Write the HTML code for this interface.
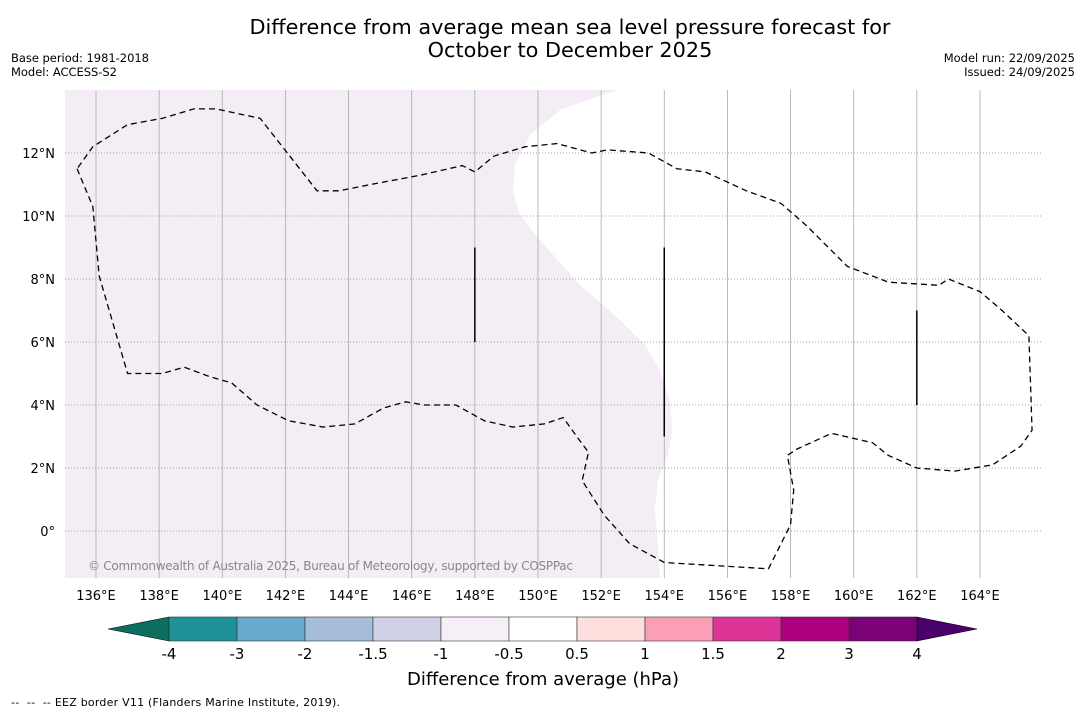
<!DOCTYPE html>
<html><head><meta charset="utf-8"><style>
body{margin:0;background:#fff;font-family:"DejaVu Sans","Liberation Sans",sans-serif;}
svg text{font-family:"DejaVu Sans","Liberation Sans",sans-serif;}
</style></head><body>
<svg id="c" width="1085" height="713" viewBox="0 0 1085 713" xmlns="http://www.w3.org/2000/svg">
<text x="570" y="34" text-anchor="middle" font-size="20.8">Difference from average mean sea level pressure forecast for</text>
<text x="570" y="57" text-anchor="middle" font-size="20.8">October to December 2025</text>
<text x="11" y="62" font-size="11.5" textLength="138">Base period: 1981-2018</text>
<text x="11" y="76" font-size="11.5" textLength="106">Model: ACCESS-S2</text>
<text x="1075" y="62" font-size="11.5" text-anchor="end">Model run: 22/09/2025</text>
<text x="1075" y="76" font-size="11.5" text-anchor="end">Issued: 24/09/2025</text>
<g id="map"></g>
<g id="cb"></g>
<text x="543" y="685" text-anchor="middle" font-size="18">Difference from average (hPa)</text>
<text x="11" y="706" font-size="11" xml:space="preserve" textLength="329">--  --  -- EEZ border V11 (Flanders Marine Institute, 2019).</text>
</svg>
<script>
const lonTicks=[136,138,140,142,144,146,148,150,152,154,156,158,160,162,164];
const latTicks=[0,2,4,6,8,10,12];
const shadeBoundaryLon=[152.5,150.7,149.75,149.27,149.2,149.43,150.06,151.33,152.6,153.4,153.86,154.18,154.25,154.12,153.8,153.7,153.8,153.87];
const shadeBoundaryLat=[14,13.37,12.57,11.62,10.83,10.03,9.24,7.81,6.7,5.9,5.1,4.16,3.2,2.41,1.62,0.67,-0.44,-1.6];
const eezLon=[135.4,135.9,136.1,137.0,138.1,138.8,139.6,140.3,141.1,142.1,143.2,144.2,145.1,145.8,146.4,147.4,148.3,149.2,150.2,150.8,151.3,151.6,151.4,152.1,152.9,154.0,157.3,157.6,158.0,158.1,157.9,158.2,159.3,160.6,161.1,162.0,163.2,164.4,165.3,165.65,165.55,164.7,164.0,163.0,162.7,161.1,159.8,158.5,157.7,156.6,155.3,154.4,153.5,152.2,151.7,150.6,149.6,148.6,148.0,147.6,146.3,144.7,143.7,143.0,141.2,139.8,139.1,138.1,137.0,135.9];
const eezLat=[11.5,10.3,8.1,5.0,5.0,5.2,4.9,4.7,4.0,3.5,3.3,3.4,3.9,4.1,4.0,4.0,3.5,3.3,3.4,3.6,2.9,2.5,1.6,0.5,-0.4,-1.0,-1.2,-0.6,0.2,1.3,2.4,2.6,3.1,2.8,2.4,2.0,1.9,2.1,2.7,3.2,6.2,7.0,7.6,8.0,7.8,7.9,8.4,9.7,10.4,10.8,11.4,11.5,12.0,12.1,12.0,12.3,12.2,11.9,11.4,11.6,11.3,11.0,10.8,10.8,13.1,13.4,13.4,13.1,12.9,12.2];
const lineLon=[148,154,162];
const lineLatTop=[9,9,7];
const lineLatBot=[6,3,4];
const cbBounds=["-4","-3","-2","-1.5","-1","-0.5","0.5","1","1.5","2","3","4"];
const cbColors=["#1f9298","#67a9cf","#a6bddb","#d0d1e6","#f6eff7","#ffffff","#fde0dd","#fa9fb5","#dd3497","#ae017e","#7a0177"];
const NS="http://www.w3.org/2000/svg";
const X0=65,X1=1042,Y0=90,Y1=578;
const px=lon=>96+(lon-136)*31.57;
const py=lat=>531-lat*31.5;
function mk(t,a,p){const e=document.createElementNS(NS,t);for(const k in a)e.setAttribute(k,a[k]);p.appendChild(e);return e;}
const map=document.getElementById('map');
const cp=mk('clipPath',{id:'clip'},map);mk('rect',{x:X0,y:Y0,width:X1-X0,height:Y1-Y0},cp);
const g=mk('g',{'clip-path':'url(#clip)'},map);
let bg=mk('rect',{x:X0,y:Y0,width:X1-X0,height:Y1-Y0,fill:'#fff'},g);


let d='M'+X0+','+(Y0-20)+' ';
shadeBoundaryLon.forEach((l,i)=>{d+='L'+px(l)+','+py(shadeBoundaryLat[i])+' ';});
d+='L'+X0+','+(Y1+20)+'Z';
let sh=mk('path',{d:d,fill:'#f4edf6','stroke-linejoin':'round'},g);


lonTicks.forEach(l=>{
 let ln=mk('line',{x1:px(l),x2:px(l),y1:Y0,y2:Y1,stroke:'#aaa','stroke-width':0.8},g);
 
 
 let t=mk('text',{x:px(l),y:600,'text-anchor':'middle','font-size':13},map);t.textContent=l+'°E';
 
 
});
latTicks.forEach(l=>{
 let ln=mk('line',{x1:X0,x2:X1,y1:py(l),y2:py(l),stroke:'#888','stroke-width':0.8,'stroke-dasharray':'1,2'},g);
 
 
 let t=mk('text',{x:55,y:py(l)+5,'text-anchor':'end','font-size':13},map);t.textContent=l===0?'0°':l+'°N';
 
 
});
let pts=eezLon.map((l,i)=>px(l)+','+py(eezLat[i])).join(' ');
let ez=mk('polygon',{points:pts,fill:'none',stroke:'#000','stroke-width':1.3,'stroke-dasharray':'6,4'},g);


lineLon.forEach((l,i)=>{
 let ln=mk('line',{x1:px(l),x2:px(l),y1:py(lineLatTop[i]),y2:py(lineLatBot[i]),stroke:'#000','stroke-width':1.5},g);
 
 
});
let cr=mk('text',{x:88,y:570,'font-size':12,fill:'#888',textLength:485},g);cr.textContent='© Commonwealth of Australia 2025, Bureau of Meteorology, supported by COSPPac';


const cb=document.getElementById('cb');
const C0=169,CW=68,CY=617,CH=24;
let el=mk('polygon',{points:`${C0},${CY} 108,${CY+CH/2} ${C0},${CY+CH}`,fill:'#0b6e5e',stroke:'#000','stroke-width':0.5},cb);


cbColors.forEach((c,i)=>{
 let r=mk('rect',{x:C0+i*CW,y:CY,width:CW,height:CH,fill:c,stroke:'#333','stroke-width':0.6},cb);
 
 
});
const CE=C0+cbColors.length*CW;
let eh=mk('polygon',{points:`${CE},${CY} 977,${CY+CH/2} ${CE},${CY+CH}`,fill:'#49006a',stroke:'#000','stroke-width':0.5},cb);


cbBounds.forEach((b,i)=>{
 let t=mk('text',{x:C0+i*CW,y:659,'text-anchor':'middle','font-size':15},cb);t.textContent=b;
 
 
});
</script>
</body></html>
